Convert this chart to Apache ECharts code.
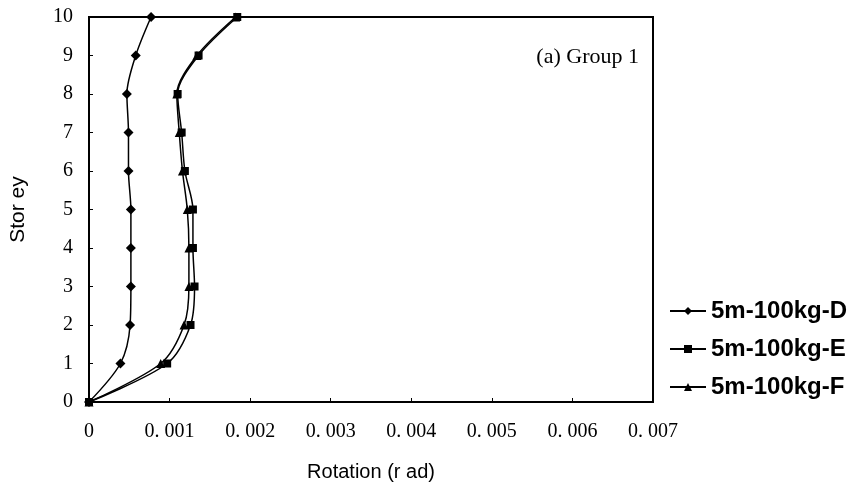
<!DOCTYPE html>
<html>
<head>
<meta charset="utf-8">
<script src="https://cdn.jsdelivr.net/npm/echarts@6/dist/echarts.min.js"></script>
<style>
  html, body { margin: 0; padding: 0; background: #fff; }
  #chart { width: 854px; height: 492px; }
</style>
</head>
<body>
<div id="chart"></div>
<script>
// Storey levels and the rotation measured at each level (rad)
const storeys = [0, 1, 2, 3, 4, 5, 6, 7, 8, 9, 10];
const rotD = [0, 0.00039, 0.00051, 0.00052, 0.00052, 0.00052, 0.00049, 0.00049, 0.00047, 0.00058, 0.00077];
const rotE = [0, 0.00097, 0.00126, 0.00131, 0.00129, 0.00129, 0.00119, 0.00115, 0.00110, 0.00136, 0.00184];
const rotF = [0, 0.00089, 0.00118, 0.00124, 0.00124, 0.00122, 0.00116, 0.00112, 0.00109, 0.00134, 0.00182];
const seriesNames = ['5m-100kg-D', '5m-100kg-E', '5m-100kg-F'];

const pairs = (xs) => xs.map((x, i) => [x, storeys[i]]);

const chart = echarts.init(document.getElementById('chart'), null, { renderer: 'canvas' });

const serif = '"Liberation Serif", "DejaVu Serif", serif';
const sans = '"Liberation Sans", Arial, sans-serif';

function lineSeries(name, data, symbol, size) {
  return {
    name: name,
    type: 'line',
    data: pairs(data),
    smooth: 0.3,
    symbol: symbol,
    symbolSize: size,
    showSymbol: true,
    lineStyle: { color: '#000', width: 1.5 },
    itemStyle: { color: '#000', borderWidth: 0 },
    emphasis: { disabled: true },
    z: 3
  };
}

chart.setOption({
  animation: false,
  backgroundColor: '#fff',
  grid: {
    left: 89, right: 201, top: 17, bottom: 90,
    show: true, borderColor: '#000', borderWidth: 2, backgroundColor: 'transparent'
  },
  legend: {
    orient: 'vertical',
    left: 664,
    top: 294,
    itemWidth: 36,
    itemHeight: 10,
    itemGap: 14,
    textStyle: { color: '#000', fontFamily: sans, fontSize: 24, fontWeight: 'bold' },
    data: seriesNames
  },
  xAxis: {
    type: 'value',
    min: 0, max: 0.007, interval: 0.001,
    name: 'Rotation (r ad)',
    nameLocation: 'middle',
    nameGap: 60,
    nameTextStyle: { color: '#000', fontFamily: sans, fontSize: 20 },
    axisLine: { show: true, lineStyle: { color: '#000', width: 2 } },
    axisTick: { show: true, inside: true, length: 4, lineStyle: { color: '#000' } },
    splitLine: { show: false },
    axisLabel: {
      color: '#000', fontFamily: serif, fontSize: 20, margin: 20,
      formatter: (v) => v === 0 ? '0' : v.toFixed(3).replace('.', '. ')
    }
  },
  yAxis: {
    type: 'value',
    min: 0, max: 10, interval: 1,
    name: 'Stor ey',
    nameLocation: 'middle',
    nameGap: 60,
    nameTextStyle: { color: '#000', fontFamily: sans, fontSize: 21 },
    axisLine: { show: true, lineStyle: { color: '#000', width: 2 } },
    axisTick: { show: true, inside: true, length: 4, lineStyle: { color: '#000' } },
    splitLine: { show: false },
    axisLabel: { color: '#000', fontFamily: serif, fontSize: 20, margin: 16 }
  },
  graphic: [{
    type: 'text',
    style: {
      text: '(a) Group 1',
      x: 639, y: 57,
      align: 'right', verticalAlign: 'middle',
      fill: '#000',
      font: '22px ' + serif
    }
  }],
  series: [
    lineSeries(seriesNames[0], rotD, 'diamond', 10),
    lineSeries(seriesNames[1], rotE, 'rect', 8),
    lineSeries(seriesNames[2], rotF, 'triangle', 9)
  ]
});
</script>
</body>
</html>
